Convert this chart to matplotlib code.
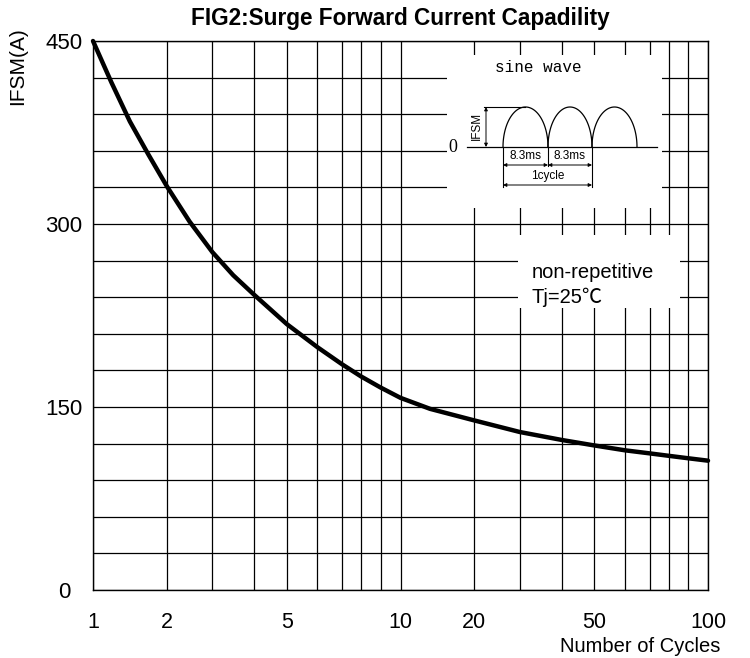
import numpy as np
import matplotlib
matplotlib.use("Agg")
import matplotlib.pyplot as plt

# curve
cycles = [1, 1.25, 1.5, 1.75, 2, 2.5, 3, 3.5, 4, 5, 6, 7, 8, 9, 10, 14, 20, 30, 40, 50, 60, 70, 80, 90, 100]
ifsm = [450, 416, 384, 357, 331, 302, 277, 258, 242, 218, 199, 185, 175, 166, 157.5, 148.5, 139,
        129.5, 123, 118.5, 114.5, 112, 110, 108, 106]

x_major = [1, 2, 5, 10, 20, 50, 100]
x_minor = [3, 4, 6, 7, 8, 9, 30, 40, 60, 70, 80, 90]
y_major = [0, 150, 300, 450]
y_minor = list(range(30, 450, 30))

# the printed chart paper is not a true log grid; positions of 1..10 inside one decade
mant = [1, 2, 3, 4, 5, 6, 7, 8, 9, 10]
mant_pos = [0, 0.240, 0.388, 0.524, 0.630, 0.730, 0.810, 0.872, 0.935, 1.0]


def fwd(x):
    x = np.clip(np.asarray(x, dtype=float), 1e-6, None)
    d = np.floor(np.log10(x) + 1e-12)
    m = x / 10.0 ** d
    return d + np.interp(m, mant, mant_pos)


def inv(y):
    y = np.asarray(y, dtype=float)
    d = np.floor(y)
    return np.interp(y - d, mant_pos, mant) * 10.0 ** d


plt.rcParams["font.family"] = ["Liberation Sans", "DejaVu Sans"]

W, H = 750, 658
fig = plt.figure(figsize=(W / 100, H / 100), dpi=100)


def box(l, t, r, b):
    return [l / W, 1 - b / H, (r - l) / W, (b - t) / H]


ax = fig.add_axes(box(93, 41, 708, 590))
ax.set_xscale("function", functions=(fwd, inv))
ax.set_xlim(1, 100)
ax.set_ylim(0, 450)

ax.set_xticks(x_major)
ax.set_xticklabels([str(v) for v in x_major])
ax.set_xticks(x_minor, minor=True)
ax.set_yticks(y_major)
ax.set_yticklabels([str(v) for v in y_major])
ax.set_yticks(y_minor, minor=True)
ax.tick_params(which="both", length=0)
ax.tick_params(axis="x", pad=16, labelsize=15.5)
ax.tick_params(axis="y", pad=21, labelsize=16)
for lab in ax.get_yticklabels():
    lab.set_horizontalalignment("center")
ax.grid(which="both", color="black", lw=0.9)
ax.set_axisbelow(True)
for s in ax.spines.values():
    s.set_linewidth(1.0)

ax.plot(cycles, ifsm, color="black", lw=3.2, clip_on=False,
        solid_capstyle="round", solid_joinstyle="round", zorder=5)

fig.text(400 / W, 1 - 18 / H, "FIG2:Surge Forward Current Capadility",
         ha="center", va="center", fontsize=16.3, fontweight="bold")
fig.text(18 / W, 1 - 66 / H, "IFSM(A)", rotation=90, ha="center", va="center", fontsize=15)
fig.text(720 / W, 1 - 646 / H, "Number of Cycles", ha="right", va="center", fontsize=14.5)

# inset: sine wave sketch
ins = fig.add_axes(box(447, 55, 662, 208))
ins.set_xlim(447, 662)
ins.set_ylim(208, 55)
ins.set_xticks([])
ins.set_yticks([])
for s in ins.spines.values():
    s.set_visible(False)
ins.set_facecolor("white")

base = 147
t = np.linspace(0, np.pi, 60)
for x0, x1 in [(503, 548), (548, 592), (592, 637)]:
    cx, a = (x0 + x1) / 2, (x1 - x0) / 2
    ins.plot(cx - a * np.cos(t), base - 40 * np.sin(t), color="black", lw=0.9)
ins.plot([467, 657], [base, base], color="black", lw=0.9)
ins.text(453, base, "0", ha="center", va="center", fontsize=13, family="Liberation Serif")
ins.text(538, 68, "sine wave", ha="center", va="center", fontsize=11.5, family="Liberation Mono")

ins.plot([484, 525], [107, 107], color="black", lw=0.8)
arr = dict(arrowstyle="<|-|>", lw=0.7, color="black", mutation_scale=5, shrinkA=0, shrinkB=0)
ins.annotate("", xy=(486, 107), xytext=(486, base), arrowprops=arr)
ins.text(477, 126, "IFSM", rotation=90, ha="center", va="center", fontsize=8.5)

ins.plot([503, 503], [base, 187], color="black", lw=0.8)
ins.plot([548, 548], [base, 166], color="black", lw=0.8)
ins.plot([592, 592], [base, 187], color="black", lw=0.8)
ins.annotate("", xy=(503, 165), xytext=(548, 165), arrowprops=arr)
ins.annotate("", xy=(548, 165), xytext=(592, 165), arrowprops=arr)
ins.annotate("", xy=(503, 185), xytext=(592, 185), arrowprops=arr)
ins.text(525.5, 156, "8.3ms", ha="center", va="center", fontsize=8.5)
ins.text(570, 156, "8.3ms", ha="center", va="center", fontsize=8.5)
ins.text(548, 176, "1cycle", ha="center", va="center", fontsize=8.5)

# note box
note = fig.add_axes(box(518, 235, 680, 308))
note.set_xlim(518, 680)
note.set_ylim(308, 235)
note.set_xticks([])
note.set_yticks([])
for s in note.spines.values():
    s.set_visible(False)
note.set_facecolor("white")
fam = ["Liberation Sans", "Noto Sans CJK SC", "DejaVu Sans"]
note.text(532, 272, "non-repetitive", ha="left", va="center", fontsize=14.5, family=fam)
note.text(532, 297, "Tj=25℃", ha="left", va="center", fontsize=14.5, family=fam)

fig.savefig("out.png", dpi=100)
